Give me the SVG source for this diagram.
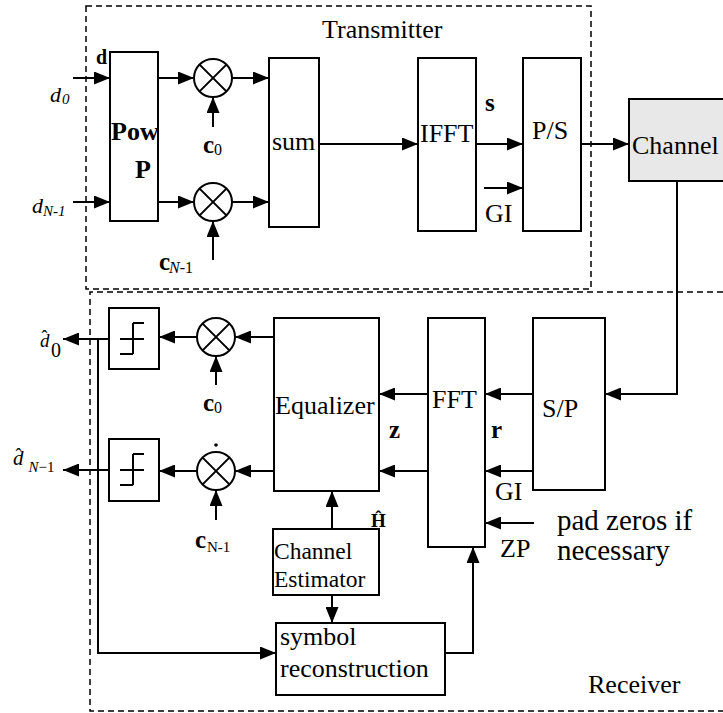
<svg xmlns="http://www.w3.org/2000/svg" width="723" height="713" viewBox="0 0 723 713">
<defs>
<style>
.box{fill:#fff;stroke:#000;stroke-width:2}
.ln{fill:none;stroke:#000;stroke-width:2}
.dash{fill:none;stroke:#000;stroke-width:1.5;stroke-dasharray:6 4}
text{font-family:"Liberation Serif","Times New Roman",serif;fill:#000}
.t{font-size:26px}
.b{font-weight:bold}
.i{font-style:italic}
</style>
<marker id="ah" markerWidth="16" markerHeight="13" refX="16" refY="6.5" orient="auto" markerUnits="userSpaceOnUse">
<path d="M0,0 L16,6.5 L0,13 z" fill="#000"/>
</marker>
</defs>
<rect width="723" height="713" fill="#fff"/>

<!-- regions -->
<g id="transmitter-region">
<rect class="dash" x="86" y="6" width="505" height="283"/>
<text class="t" x="322" y="38">Transmitter</text>
</g>
<g id="receiver-region">
<path class="dash" d="M723,292 H90 V711 H723"/>
<text class="t" x="588" y="693">Receiver</text>
</g>

<!-- transmitter nodes -->
<g id="pow">
<rect class="box" x="110" y="52" width="48" height="169"/>
<text class="t b" x="111" y="140" font-size="25">Pow</text>
<text class="t b" x="135" y="178" font-size="25">P</text>
</g>
<g id="mul-t0">
<circle class="ln" cx="213" cy="78" r="19"/>
<path class="ln" d="M199.6,64.6 L226.4,91.4 M226.4,64.6 L199.6,91.4"/>
</g>
<g id="mul-t1">
<circle class="ln" cx="213" cy="202" r="19"/>
<path class="ln" d="M199.6,188.6 L226.4,215.4 M226.4,188.6 L199.6,215.4"/>
</g>
<g id="sum">
<rect class="box" x="269" y="58" width="50" height="169"/>
<text class="t" x="272" y="150">sum</text>
</g>
<g id="ifft">
<rect class="box" x="418" y="58" width="58" height="173"/>
<text class="t" x="420" y="142">IFFT</text>
</g>
<g id="ps">
<rect class="box" x="523" y="58" width="58" height="173"/>
<text class="t" x="532" y="139">P/S</text>
</g>
<g id="channel">
<rect x="629" y="99" width="110" height="82" fill="#e8e8e8" stroke="#000" stroke-width="2"/>
<text class="t" x="632" y="154">Channel</text>
</g>

<!-- receiver nodes -->
<g id="slicer0">
<rect class="box" x="109" y="308" width="50" height="61"/>
<path class="ln" d="M120,339 H144 M133,323 V354 M133,323 H144 M120,354 H133"/>
</g>
<g id="slicer1">
<rect class="box" x="109" y="439" width="50" height="62"/>
<path class="ln" d="M120,470 H144 M133,454 V485 M133,454 H144 M120,485 H133"/>
</g>
<g id="mul-r0">
<circle class="ln" cx="216" cy="337" r="19"/>
<path class="ln" d="M202.6,323.6 L229.4,350.4 M229.4,323.6 L202.6,350.4"/>
</g>
<g id="mul-r1">
<circle class="ln" cx="216" cy="471" r="19"/>
<path class="ln" d="M202.6,457.6 L229.4,484.4 M229.4,457.6 L202.6,484.4"/>
<circle cx="216" cy="445" r="1.8" fill="#000"/>
</g>
<g id="equalizer">
<rect class="box" x="274" y="318" width="105" height="173"/>
<text class="t" x="275" y="414">Equalizer</text>
</g>
<g id="fft">
<rect class="box" x="428" y="318" width="57" height="229"/>
<text class="t" x="432" y="408">FFT</text>
</g>
<g id="sp">
<rect class="box" x="533" y="318" width="72" height="172"/>
<text class="t" x="542" y="417">S/P</text>
</g>
<g id="channel-estimator">
<rect class="box" x="273" y="529" width="106" height="66"/>
<text x="274" y="559" font-size="23.5">Channel</text>
<text x="274" y="587" font-size="23.5">Estimator</text>
</g>
<g id="symbol-reconstruction">
<rect class="box" x="276" y="623" width="169" height="72"/>
<text class="t" x="280" y="645">symbol</text>
<text class="t" x="280" y="677">reconstruction</text>
</g>

<!-- connectors -->
<g id="connectors">
<path class="ln" d="M73,78 H110" marker-end="url(#ah)"/>
<path class="ln" d="M73,202 H110" marker-end="url(#ah)"/>
<path class="ln" d="M158,78 H194" marker-end="url(#ah)"/>
<path class="ln" d="M158,202 H194" marker-end="url(#ah)"/>
<path class="ln" d="M232,78 H269" marker-end="url(#ah)"/>
<path class="ln" d="M232,202 H269" marker-end="url(#ah)"/>
<path class="ln" d="M213,127 V97" marker-end="url(#ah)"/>
<path class="ln" d="M213,260 V221" marker-end="url(#ah)"/>
<path class="ln" d="M319,144 H418" marker-end="url(#ah)"/>
<path class="ln" d="M476,144 H523" marker-end="url(#ah)"/>
<path class="ln" d="M484,188 H523" marker-end="url(#ah)"/>
<path class="ln" d="M581,144 H629" marker-end="url(#ah)"/>
<path class="ln" d="M677,181 V394 H605" marker-end="url(#ah)"/>
<path class="ln" d="M533,394 H485" marker-end="url(#ah)"/>
<path class="ln" d="M533,471 H485" marker-end="url(#ah)"/>
<path class="ln" d="M534,523 H485" marker-end="url(#ah)"/>
<path class="ln" d="M428,394 H379" marker-end="url(#ah)"/>
<path class="ln" d="M428,471 H379" marker-end="url(#ah)"/>
<path class="ln" d="M274,337 H235" marker-end="url(#ah)"/>
<path class="ln" d="M274,471 H235" marker-end="url(#ah)"/>
<path class="ln" d="M197,337 H159" marker-end="url(#ah)"/>
<path class="ln" d="M197,471 H159" marker-end="url(#ah)"/>
<path class="ln" d="M216,385 V356" marker-end="url(#ah)"/>
<path class="ln" d="M216,520 V490" marker-end="url(#ah)"/>
<path class="ln" d="M109,339 H63" marker-end="url(#ah)"/>
<path class="ln" d="M109,470 H63" marker-end="url(#ah)"/>
<path class="ln" d="M98,339 V653 H276" marker-end="url(#ah)"/>
<path class="ln" d="M332,529 V491" marker-end="url(#ah)"/>
<path class="ln" d="M332,595 V623" marker-end="url(#ah)"/>
<path class="ln" d="M445,653 H473 V547" marker-end="url(#ah)"/>
</g>

<!-- labels -->
<g id="labels">
<text class="b" x="96" y="64" font-size="20">d</text>
<text x="50" y="102" font-size="22" class="i">d</text>
<text x="62" y="104" font-size="15" class="i">0</text>
<text x="32" y="213" font-size="22" class="i">d</text>
<text x="43" y="216" font-size="15" class="i">N-1</text>
<text x="203" y="153" font-size="25" class="b">c</text>
<text x="214" y="155" font-size="16">0</text>
<text x="159" y="270" font-size="25" class="b">c</text>
<text x="169" y="273" font-size="16"><tspan class="i">N</tspan>-1</text>
<text x="485" y="111" font-size="25" class="b">s</text>
<text class="t" x="485" y="222">GI</text>

<text x="40" y="347" font-size="19"><tspan class="i">d</tspan><tspan dx="-8" dy="-4" font-size="18">ˆ</tspan><tspan dx="3.5" dy="14" font-size="20">0</tspan></text>
<text x="13" y="465" font-size="21"><tspan class="i">d</tspan><tspan dx="-8" dy="-4" font-size="18">ˆ</tspan><tspan dx="7" dy="11" font-size="15"><tspan class="i">N</tspan>−1</tspan></text>
<text x="203" y="411" font-size="25" class="b">c</text>
<text x="214" y="413" font-size="16">0</text>
<text x="195" y="548" font-size="25" class="b">c</text>
<text x="207" y="552" font-size="15">N-1</text>
<text x="389" y="438" font-size="25" class="b">z</text>
<text x="491" y="438" font-size="25" class="b">r</text>
<text class="t" x="495" y="500">GI</text>
<text class="t" x="500" y="557">ZP</text>
<text x="557" y="530" font-size="29">pad zeros if</text>
<text x="557" y="560" font-size="29">necessary</text>
<text x="371" y="527" font-size="19" class="b">Ĥ</text>
</g>
</svg>
